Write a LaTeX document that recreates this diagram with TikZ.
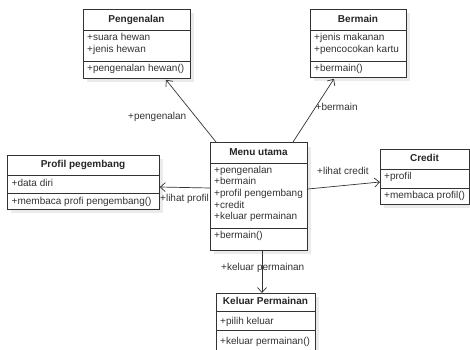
\documentclass[tikz,border=0pt]{standalone}
\usepackage{fontspec}
\setmainfont{Liberation Sans}
\usetikzlibrary{calc,arrows.meta}
\definecolor{linec}{HTML}{333333}
\definecolor{textc}{HTML}{333333}
\definecolor{shadowc}{HTML}{EBEBEB}
\tikzset{
  cls/.style={draw=linec, line width=0.8pt, fill=white, inner sep=0pt, anchor=north west},
  divline/.style={draw=linec, line width=0.8pt},
  shade box/.style={fill=shadowc},
  ctitle/.style={font=\fontsize{10}{12}\selectfont\bfseries, text=black!85, inner sep=0pt, text height=7pt, text depth=2pt},
  ctext/.style={font=\fontsize{10}{12}\selectfont, text=textc, inner sep=0pt, anchor=west, text height=7pt, text depth=2pt},
  elabel/.style={font=\fontsize{10}{12}\selectfont, text=textc, inner sep=0pt, anchor=west, text height=7pt, text depth=2pt},
  assoc/.style={draw=linec, line width=0.7pt, -{Straight Barb[length=5pt,width=9pt]}},
}
\begin{document}
\begin{tikzpicture}[x=1pt,y=-1pt]
\useasboundingbox (0,0) rectangle (470,349);
\fill[white] (0,0) rectangle (470,349);

% ---------- shadows ----------
\fill[shade box] (87,13) rectangle (194,82);
\fill[shade box] (314,13) rectangle (410,81);
\fill[shade box] (11,159) rectangle (163,213);
\fill[shade box] (214,147) rectangle (311,254);
\fill[shade box] (384,153) rectangle (473,208);
\fill[shade box] (220,297) rectangle (319,356);

% ---------- Pengenalan ----------
\node[cls, minimum width=107pt, minimum height=69pt] (pen) at (83,9) {};
\draw[divline] (83,30) -- (190,30) (83,61) -- (190,61);
\node[ctitle] (pent) at (136.5,19.5) {Pengenalan};
\node[ctext] (pena1) at (87,38) {+suara hewan};
\node[ctext] (pena2) at (87,50) {+jenis hewan};
\node[ctext] (penm1) at (87,69) {+pengenalan hewan()};

% ---------- Bermain ----------
\node[cls, minimum width=96pt, minimum height=68pt] (ber) at (310,9) {};
\draw[divline] (310,30) -- (406,30) (310,61) -- (406,61);
\node[ctitle] (bert) at (358,19.5) {Bermain};
\node[ctext] (bera1) at (314,38) {+jenis makanan};
\node[ctext] (bera2) at (314,50) {+pencocokan kartu};
\node[ctext] (berm1) at (314,69) {+bermain()};

% ---------- Profil pegembang ----------
\node[cls, minimum width=152pt, minimum height=54pt] (pro) at (7,155) {};
\draw[divline] (7,175) -- (159,175) (7,193) -- (159,193);
\node[ctitle] (prot) at (83,165) {Profil pegembang};
\node[ctext] (proa1) at (11.5,184) {+data diri};
\node[ctext] (prom1) at (11.5,202) {+membaca profi pengembang()};

% ---------- Menu utama ----------
\node[cls, minimum width=97pt, minimum height=108pt] (menu) at (210,142) {};
\draw[divline] (210,163) -- (307,163) (210,228) -- (307,228);
\node[ctitle] (menut) at (258.5,153) {Menu utama};
\node[ctext] (menua1) at (214,170.5) {+pengenalan};
\node[ctext] (menua2) at (214,182.2) {+bermain};
\node[ctext] (menua3) at (214,193.9) {+profil pengembang};
\node[ctext] (menua4) at (214,205.6) {+credit};
\node[ctext] (menua5) at (214,217.3) {+keluar permainan};
\node[ctext] (menum1) at (214,236) {+bermain()};

% ---------- Credit ----------
\node[cls, minimum width=89pt, minimum height=55pt] (cre) at (380,149) {};
\draw[divline] (380,169) -- (469,169) (380,188) -- (469,188);
\node[ctitle] (cret) at (424.5,159) {Credit};
\node[ctext] (crea1) at (384,176.5) {+profil};
\node[ctext] (crem1) at (384,195.5) {+membaca profil()};

% ---------- Keluar Permainan ----------
\node[cls, minimum width=99pt, minimum height=60pt] (kel) at (216,293) {};
\draw[divline] (216,311.5) -- (315,311.5) (216,330) -- (315,330);
\node[ctitle] (kelt) at (265.5,302) {Keluar Permainan};
\node[ctext] (kela1) at (220,322) {+pilih keluar};
\node[ctext] (kelm1) at (220,341.5) {+keluar permainan()};

% ---------- connectors ----------
\draw[assoc] ($(menu.north west)+(6,0)$) -- ($(pen.south west)+(83,1)$);
\draw[assoc] ($(menu.north west)+(83,0)$) -- ($(ber.south west)+(24,1)$);
\draw[assoc] ($(menu.north west)+(0,46)$) -- ($(pro.north east)+(0,32)$);
\draw[assoc] ($(menu.north east)+(0,47)$) -- ($(cre.north west)+(0,33)$);
\draw[assoc] ($(menu.south west)+(52,0)$) -- ($(kel.north west)+(46,0)$);

% ---------- labels ----------
\node[elabel] (lpen) at (128,117) {+pengenalan};
\node[elabel] (lber) at (315.5,108) {+bermain};
\node[elabel] (lpro) at (160,198.5) {+lihat profil};
\node[elabel] (lcre) at (317,172) {+lihat credit};
\node[elabel] (lkel) at (221,267.5) {+keluar permainan};
\end{tikzpicture}
\end{document}
